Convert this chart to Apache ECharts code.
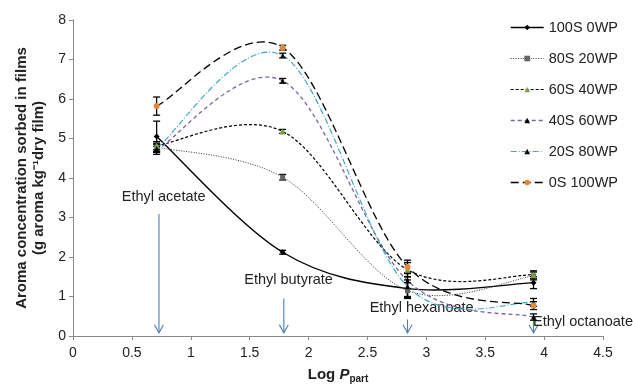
<!DOCTYPE html>
<html>
<head>
<meta charset="utf-8">
<script src="https://cdn.jsdelivr.net/npm/echarts@6/dist/echarts.min.js"></script>
<style>
    html, body { margin: 0; padding: 0; background: #fff; }
    #chart { width: 633px; height: 389px; }
</style>
</head>
<body>
<div id="chart"></div>
<script>
// log P of the four aroma compounds
const logP = [0.71, 1.78, 2.84, 3.91];

// sorbed concentration, g aroma / kg dry film
const s100S0WP = [5.05, 2.12, 1.20, 1.35];
const s80S20WP = [4.78, 4.02, 1.15, 1.52];
const s60S40WP = [4.82, 5.18, 1.68, 1.55];
const s40S60WP = [4.70, 6.46, 1.40, 0.48];
const s20S80WP = [4.75, 7.10, 1.25, 0.85];
const s0S100WP = [5.82, 7.30, 1.75, 0.77];

// standard deviations
const e100S0WP = [0.39, 0.05, 0.22, 0.15];
const e80S20WP = [0.10, 0.07, 0.20, 0.10];
const e60S40WP = [0.10, 0.05, 0.18, 0.10];
const e40S60WP = [0.10, 0.06, 0.20, 0.08];
const e20S80WP = [0.10, 0.06, 0.25, 0.10];
const e0S100WP = [0.23, 0.06, 0.17, 0.10];

// compound annotations
const compounds = ['Ethyl acetate', 'Ethyl butyrate', 'Ethyl hexanoate', 'Ethyl octanoate'];
const arrowX = [0.73, 1.79, 2.84, 3.91];
const arrowTop = [3.09, 0.95, 0.42, 0.40];
const arrowTip = [0.08, 0.08, 0.08, 0.08];
const labelX = [0.77, 1.83, 2.96, 4.33];
const labelY = [3.52, 1.42, 0.72, 0.35];

const xTicks = [0, 0.5, 1, 1.5, 2, 2.5, 3, 3.5, 4, 4.5];

const chart = echarts.init(document.getElementById('chart'));

function pairs(ys) {
    return logP.map((x, i) => [x, ys[i]]);
}

function errData(ys, es) {
    return logP.map((x, i) => [x, ys[i], es[i]]);
}

const lines = [
    { name: '100S 0WP', y: s100S0WP, e: e100S0WP, color: '#000', type: 'solid', width: 1.4, symbol: 'diamond', symbolSize: 6, marker: '#000' },
    { name: '80S 20WP', y: s80S20WP, e: e80S20WP, color: '#333', type: [1, 1.5], width: 1, symbol: 'rect', symbolSize: 5, marker: '#666' },
    { name: '60S 40WP', y: s60S40WP, e: e60S40WP, color: '#000', type: [3, 2], width: 1.2, symbol: 'triangle', symbolSize: 6, marker: '#77a33a' },
    { name: '40S 60WP', y: s40S60WP, e: e40S60WP, color: '#7b62a3', type: [4, 3], width: 1.3, symbol: 'triangle', symbolSize: 5, marker: '#000' },
    { name: '20S 80WP', y: s20S80WP, e: e20S80WP, color: '#3fa8c4', type: [6, 2, 1, 2], width: 1.2, symbol: 'triangle', symbolSize: 5, marker: '#000' },
    { name: '0S 100WP', y: s0S100WP, e: e0S100WP, color: '#000', type: [8, 4], width: 1.3, symbol: 'circle', symbolSize: 6, marker: '#e08a3c' }
];

// spreadsheet-style smoothed curve: cubic bezier, control points from neighbours / 6
function curveRenderer(ys, s) {
    return function (params, api) {
        const p = logP.map((x, i) => api.coord([x, ys[i]]));
        const n = p.length;
        let d = 'M' + p[0][0] + ' ' + p[0][1];
        for (let i = 0; i < n - 1; i++) {
            const a = p[Math.max(i - 1, 0)], b = p[i], c = p[i + 1], e = p[Math.min(i + 2, n - 1)];
            const c1 = [b[0] + (c[0] - a[0]) / 6, b[1] + (c[1] - a[1]) / 6];
            const c2 = [c[0] - (e[0] - b[0]) / 6, c[1] - (e[1] - b[1]) / 6];
            d += ' C' + c1[0] + ' ' + c1[1] + ' ' + c2[0] + ' ' + c2[1] + ' ' + c[0] + ' ' + c[1];
        }
        return {
            type: 'path',
            shape: { pathData: d },
            style: {
                fill: 'none', stroke: s.color, lineWidth: s.width,
                lineDash: s.type === 'solid' ? null : s.type
            }
        };
    };
}

function renderError(params, api) {
    const x = api.value(0), y = api.value(1), e = api.value(2);
    const top = api.coord([x, y + e]);
    const bot = api.coord([x, y - e]);
    const st = { stroke: '#000', lineWidth: 1.3 };
    return {
        type: 'group',
        children: [
            { type: 'line', shape: { x1: top[0], y1: top[1], x2: bot[0], y2: bot[1] }, style: st },
            { type: 'line', shape: { x1: top[0] - 3.5, y1: top[1], x2: top[0] + 3.5, y2: top[1] }, style: st },
            { type: 'line', shape: { x1: bot[0] - 3.5, y1: bot[1], x2: bot[0] + 3.5, y2: bot[1] }, style: st }
        ]
    };
}

function renderArrow(params, api) {
    const i = params.dataIndex;
    const a = api.coord([api.value(0), api.value(1)]);
    const b = api.coord([api.value(0), api.value(2)]);
    const l = api.coord([api.value(3), api.value(4)]);
    const st = { stroke: '#4a7ebb', lineWidth: 1.1 };
    return {
        type: 'group',
        children: [
            { type: 'line', shape: { x1: a[0], y1: a[1], x2: b[0], y2: b[1] }, style: st },
            { type: 'polyline', shape: { points: [[b[0] - 4.5, b[1] - 8], [b[0], b[1]], [b[0] + 4.5, b[1] - 8]] }, style: Object.assign({ fill: 'none' }, st) },
            {
                type: 'text',
                x: l[0], y: l[1],
                style: {
                    text: compounds[i], fill: '#222', fontSize: 14.5,
                    fontFamily: 'Liberation Sans, Arial, sans-serif',
                    align: 'center', verticalAlign: 'middle'
                }
            }
        ]
    };
}

const series = [];
lines.forEach(s => {
    series.push({
        type: 'custom',
        renderItem: curveRenderer(s.y, s),
        data: [pairs(s.y)[0]],
        encode: { x: 0, y: 1 },
        z: 2,
        silent: true
    });
});
lines.forEach(s => {
    series.push({
        type: 'custom',
        renderItem: renderError,
        data: errData(s.y, s.e),
        encode: { x: 0, y: 1 },
        z: 3,
        silent: true
    });
});
lines.forEach(s => {
    series.push({
        name: s.name,
        type: 'line',
        data: pairs(s.y),
        symbol: s.symbol,
        symbolSize: s.symbolSize,
        showAllSymbol: true,
        lineStyle: { color: s.color, type: s.type, width: s.width, opacity: 0 },
        itemStyle: { color: s.marker, borderColor: s.marker, borderWidth: 0 },
        z: 4
    });
});
series.push({
    type: 'custom',
    renderItem: renderArrow,
    data: arrowX.map((x, i) => [x, arrowTop[i], arrowTip[i], labelX[i], labelY[i]]),
    encode: { x: 0, y: 1 },
    clip: false,
    z: 1,
    silent: true
});

chart.setOption({
    animation: false,
    backgroundColor: '#fff',
    textStyle: { fontFamily: 'Liberation Sans, Arial, sans-serif' },
    grid: { left: 73, right: 30, top: 20, bottom: 48 },
    legend: {
        data: lines.map(s => ({
            name: s.name,
            lineStyle: { color: s.color, type: s.type, width: s.width, opacity: 1 }
        })),
        orient: 'vertical',
        left: 510,
        top: 20,
        padding: 0,
        itemWidth: 33,
        itemHeight: 7,
        itemGap: 16,
        textStyle: { fontSize: 14.5, color: '#222', padding: [0, 0, 0, 0] }
    },
    xAxis: {
        type: 'value',
        min: 0, max: 4.5, interval: 0.5,
        name: '{b|Log }{bi|P}{sub|part}',
        nameLocation: 'middle',
        nameGap: 30,
        nameTextStyle: {
            rich: {
                b: { fontSize: 15, fontWeight: 'bold', color: '#222' },
                bi: { fontSize: 15, fontWeight: 'bold', fontStyle: 'italic', color: '#222' },
                sub: { fontSize: 10, fontWeight: 'bold', color: '#222', padding: [8, 0, 0, 0] }
            }
        },
        axisLine: { show: true, lineStyle: { color: '#888', width: 1 } },
        axisTick: { show: true, inside: false, length: 4, lineStyle: { color: '#888' } },
        axisLabel: {
            fontSize: 14, color: '#222', margin: 10,
            formatter: v => xTicks.includes(v) ? String(v) : ''
        },
        splitLine: { show: false }
    },
    yAxis: {
        type: 'value',
        min: 0, max: 8, interval: 1,
        name: 'Aroma concentration sorbed in films\n(g aroma kg⁻¹dry film)',
        nameLocation: 'middle',
        nameGap: 21,
        nameTextStyle: { fontSize: 15, fontWeight: 'bold', color: '#222', lineHeight: 17 },
        axisLine: { show: true, lineStyle: { color: '#888', width: 1 } },
        axisTick: { show: true, inside: false, length: 4, lineStyle: { color: '#888' } },
        axisLabel: { fontSize: 14, color: '#222', margin: 7 },
        splitLine: { show: false }
    },
    series: series
});
</script>
</body>
</html>
